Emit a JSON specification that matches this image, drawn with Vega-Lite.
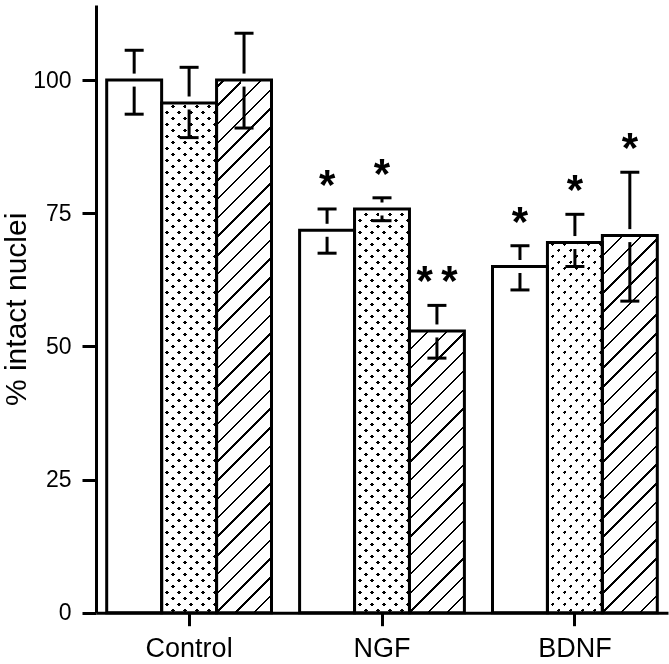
{
"$schema": "https://vega.github.io/schema/vega-lite/v6.json",
"autosize": {"type": "none"},
"padding": {"left": 96, "top": 5, "right": 1, "bottom": 51.3},
"width": 572,
"height": 607.7,
"background": "white",
"config": {"view": {"stroke": null}, "font": "Liberation Sans",
  "axis": {"grid": false, "domainColor": "#000", "tickColor": "#000", "labelColor": "#000", "titleColor": "#000", "domainWidth": 3, "tickWidth": 3, "labelFont": "Liberation Sans", "titleFont": "Liberation Sans"}},
"data": {"values": [
  {"group": "Control", "series": "A", "mean": 100, "lo": 93.6, "hi": 105.6, "sig": ""},
  {"group": "Control", "series": "B", "mean": 95.7, "lo": 89.2, "hi": 102.4, "sig": ""},
  {"group": "Control", "series": "C", "mean": 100, "lo": 91.0, "hi": 108.8, "sig": ""},
  {"group": "NGF", "series": "A", "mean": 71.8, "lo": 67.5, "hi": 75.8, "sig": "*"},
  {"group": "NGF", "series": "B", "mean": 75.8, "lo": 73.6, "hi": 77.9, "sig": "*"},
  {"group": "NGF", "series": "C", "mean": 52.9, "lo": 47.8, "hi": 57.7, "sig": "*\u2009*"},
  {"group": "BDNF", "series": "A", "mean": 65.0, "lo": 60.6, "hi": 68.9, "sig": "*"},
  {"group": "BDNF", "series": "B", "mean": 69.5, "lo": 65.0, "hi": 74.8, "sig": "*"},
  {"group": "BDNF", "series": "C", "mean": 70.8, "lo": 58.5, "hi": 82.7, "sig": "*"}
]},
"encoding": {
  "x": {"field": "group", "type": "nominal", "sort": ["Control", "NGF", "BDNF"], "scale": {"paddingInner": 0.1457, "paddingOuter": 0.0555},
        "axis": {"title": null, "labelAngle": 0, "tickSize": 13, "labelFontSize": 27, "labelPadding": 10}},
  "xOffset": {"field": "series", "type": "nominal", "sort": ["A", "B", "C"], "scale": {"paddingInner": 0, "paddingOuter": 0}}
},
"layer": [
  {"transform": [{"filter": "datum.series == 'B'"}],
   "mark": {"type": "bar", "strokeWidth": 0, "fill": {"gradient": "linear", "x1": 0, "y1": 0, "x2": 0.10981, "y2": 1.08966, "stops": [
{"offset":0,"color":"#000"},{"offset":0.0065,"color":"#000"},{"offset":0.0065,"color":"#fff"},{"offset":0.02,"color":"#fff"},
{"offset":0.02,"color":"#000"},{"offset":0.0265,"color":"#000"},{"offset":0.0265,"color":"#fff"},{"offset":0.04,"color":"#fff"},
{"offset":0.04,"color":"#000"},{"offset":0.0465,"color":"#000"},{"offset":0.0465,"color":"#fff"},{"offset":0.06,"color":"#fff"},
{"offset":0.06,"color":"#000"},{"offset":0.0665,"color":"#000"},{"offset":0.0665,"color":"#fff"},{"offset":0.08,"color":"#fff"},
{"offset":0.08,"color":"#000"},{"offset":0.0865,"color":"#000"},{"offset":0.0865,"color":"#fff"},{"offset":0.1,"color":"#fff"},
{"offset":0.1,"color":"#000"},{"offset":0.1065,"color":"#000"},{"offset":0.1065,"color":"#fff"},{"offset":0.12,"color":"#fff"},
{"offset":0.12,"color":"#000"},{"offset":0.1265,"color":"#000"},{"offset":0.1265,"color":"#fff"},{"offset":0.14,"color":"#fff"},
{"offset":0.14,"color":"#000"},{"offset":0.1465,"color":"#000"},{"offset":0.1465,"color":"#fff"},{"offset":0.16,"color":"#fff"},
{"offset":0.16,"color":"#000"},{"offset":0.1665,"color":"#000"},{"offset":0.1665,"color":"#fff"},{"offset":0.18,"color":"#fff"},
{"offset":0.18,"color":"#000"},{"offset":0.1865,"color":"#000"},{"offset":0.1865,"color":"#fff"},{"offset":0.2,"color":"#fff"},
{"offset":0.2,"color":"#000"},{"offset":0.2065,"color":"#000"},{"offset":0.2065,"color":"#fff"},{"offset":0.22,"color":"#fff"},
{"offset":0.22,"color":"#000"},{"offset":0.2265,"color":"#000"},{"offset":0.2265,"color":"#fff"},{"offset":0.24,"color":"#fff"},
{"offset":0.24,"color":"#000"},{"offset":0.2465,"color":"#000"},{"offset":0.2465,"color":"#fff"},{"offset":0.26,"color":"#fff"},
{"offset":0.26,"color":"#000"},{"offset":0.2665,"color":"#000"},{"offset":0.2665,"color":"#fff"},{"offset":0.28,"color":"#fff"},
{"offset":0.28,"color":"#000"},{"offset":0.2865,"color":"#000"},{"offset":0.2865,"color":"#fff"},{"offset":0.3,"color":"#fff"},
{"offset":0.3,"color":"#000"},{"offset":0.3065,"color":"#000"},{"offset":0.3065,"color":"#fff"},{"offset":0.32,"color":"#fff"},
{"offset":0.32,"color":"#000"},{"offset":0.3265,"color":"#000"},{"offset":0.3265,"color":"#fff"},{"offset":0.34,"color":"#fff"},
{"offset":0.34,"color":"#000"},{"offset":0.3465,"color":"#000"},{"offset":0.3465,"color":"#fff"},{"offset":0.36,"color":"#fff"},
{"offset":0.36,"color":"#000"},{"offset":0.3665,"color":"#000"},{"offset":0.3665,"color":"#fff"},{"offset":0.38,"color":"#fff"},
{"offset":0.38,"color":"#000"},{"offset":0.3865,"color":"#000"},{"offset":0.3865,"color":"#fff"},{"offset":0.4,"color":"#fff"},
{"offset":0.4,"color":"#000"},{"offset":0.4065,"color":"#000"},{"offset":0.4065,"color":"#fff"},{"offset":0.42,"color":"#fff"},
{"offset":0.42,"color":"#000"},{"offset":0.4265,"color":"#000"},{"offset":0.4265,"color":"#fff"},{"offset":0.44,"color":"#fff"},
{"offset":0.44,"color":"#000"},{"offset":0.4465,"color":"#000"},{"offset":0.4465,"color":"#fff"},{"offset":0.46,"color":"#fff"},
{"offset":0.46,"color":"#000"},{"offset":0.4665,"color":"#000"},{"offset":0.4665,"color":"#fff"},{"offset":0.48,"color":"#fff"},
{"offset":0.48,"color":"#000"},{"offset":0.4865,"color":"#000"},{"offset":0.4865,"color":"#fff"},{"offset":0.5,"color":"#fff"},
{"offset":0.5,"color":"#000"},{"offset":0.5065,"color":"#000"},{"offset":0.5065,"color":"#fff"},{"offset":0.52,"color":"#fff"},
{"offset":0.52,"color":"#000"},{"offset":0.5265,"color":"#000"},{"offset":0.5265,"color":"#fff"},{"offset":0.54,"color":"#fff"},
{"offset":0.54,"color":"#000"},{"offset":0.5465,"color":"#000"},{"offset":0.5465,"color":"#fff"},{"offset":0.56,"color":"#fff"},
{"offset":0.56,"color":"#000"},{"offset":0.5665,"color":"#000"},{"offset":0.5665,"color":"#fff"},{"offset":0.58,"color":"#fff"},
{"offset":0.58,"color":"#000"},{"offset":0.5865,"color":"#000"},{"offset":0.5865,"color":"#fff"},{"offset":0.6,"color":"#fff"},
{"offset":0.6,"color":"#000"},{"offset":0.6065,"color":"#000"},{"offset":0.6065,"color":"#fff"},{"offset":0.62,"color":"#fff"},
{"offset":0.62,"color":"#000"},{"offset":0.6265,"color":"#000"},{"offset":0.6265,"color":"#fff"},{"offset":0.64,"color":"#fff"},
{"offset":0.64,"color":"#000"},{"offset":0.6465,"color":"#000"},{"offset":0.6465,"color":"#fff"},{"offset":0.66,"color":"#fff"},
{"offset":0.66,"color":"#000"},{"offset":0.6665,"color":"#000"},{"offset":0.6665,"color":"#fff"},{"offset":0.68,"color":"#fff"},
{"offset":0.68,"color":"#000"},{"offset":0.6865,"color":"#000"},{"offset":0.6865,"color":"#fff"},{"offset":0.7,"color":"#fff"},
{"offset":0.7,"color":"#000"},{"offset":0.7065,"color":"#000"},{"offset":0.7065,"color":"#fff"},{"offset":0.72,"color":"#fff"},
{"offset":0.72,"color":"#000"},{"offset":0.7265,"color":"#000"},{"offset":0.7265,"color":"#fff"},{"offset":0.74,"color":"#fff"},
{"offset":0.74,"color":"#000"},{"offset":0.7465,"color":"#000"},{"offset":0.7465,"color":"#fff"},{"offset":0.76,"color":"#fff"},
{"offset":0.76,"color":"#000"},{"offset":0.7665,"color":"#000"},{"offset":0.7665,"color":"#fff"},{"offset":0.78,"color":"#fff"},
{"offset":0.78,"color":"#000"},{"offset":0.7865,"color":"#000"},{"offset":0.7865,"color":"#fff"},{"offset":0.8,"color":"#fff"},
{"offset":0.8,"color":"#000"},{"offset":0.8065,"color":"#000"},{"offset":0.8065,"color":"#fff"},{"offset":0.82,"color":"#fff"},
{"offset":0.82,"color":"#000"},{"offset":0.8265,"color":"#000"},{"offset":0.8265,"color":"#fff"},{"offset":0.84,"color":"#fff"},
{"offset":0.84,"color":"#000"},{"offset":0.8465,"color":"#000"},{"offset":0.8465,"color":"#fff"},{"offset":0.86,"color":"#fff"},
{"offset":0.86,"color":"#000"},{"offset":0.8665,"color":"#000"},{"offset":0.8665,"color":"#fff"},{"offset":0.88,"color":"#fff"},
{"offset":0.88,"color":"#000"},{"offset":0.8865,"color":"#000"},{"offset":0.8865,"color":"#fff"},{"offset":0.9,"color":"#fff"},
{"offset":0.9,"color":"#000"},{"offset":0.9065,"color":"#000"},{"offset":0.9065,"color":"#fff"},{"offset":0.92,"color":"#fff"},
{"offset":0.92,"color":"#000"},{"offset":0.9265,"color":"#000"},{"offset":0.9265,"color":"#fff"},{"offset":0.94,"color":"#fff"},
{"offset":0.94,"color":"#000"},{"offset":0.9465,"color":"#000"},{"offset":0.9465,"color":"#fff"},{"offset":0.96,"color":"#fff"},
{"offset":0.96,"color":"#000"},{"offset":0.9665,"color":"#000"},{"offset":0.9665,"color":"#fff"},{"offset":0.98,"color":"#fff"},
{"offset":0.98,"color":"#000"},{"offset":0.9865,"color":"#000"},{"offset":0.9865,"color":"#fff"},{"offset":1,"color":"#fff"}]}},
   "encoding": {"y": {"datum": 102.35, "type": "quantitative"}, "y2": {"datum": 0}}},
  {"transform": [{"filter": "datum.series == 'B'"}],
   "mark": {"type": "bar", "strokeWidth": 0, "blend": "lighten", "fill": {"gradient": "linear", "x1": 0, "y1": 1, "x2": 0.10981, "y2": -0.08966, "stops": [
{"offset":0,"color":"#000"},{"offset":0.0065,"color":"#000"},{"offset":0.0065,"color":"#fff"},{"offset":0.02,"color":"#fff"},
{"offset":0.02,"color":"#000"},{"offset":0.0265,"color":"#000"},{"offset":0.0265,"color":"#fff"},{"offset":0.04,"color":"#fff"},
{"offset":0.04,"color":"#000"},{"offset":0.0465,"color":"#000"},{"offset":0.0465,"color":"#fff"},{"offset":0.06,"color":"#fff"},
{"offset":0.06,"color":"#000"},{"offset":0.0665,"color":"#000"},{"offset":0.0665,"color":"#fff"},{"offset":0.08,"color":"#fff"},
{"offset":0.08,"color":"#000"},{"offset":0.0865,"color":"#000"},{"offset":0.0865,"color":"#fff"},{"offset":0.1,"color":"#fff"},
{"offset":0.1,"color":"#000"},{"offset":0.1065,"color":"#000"},{"offset":0.1065,"color":"#fff"},{"offset":0.12,"color":"#fff"},
{"offset":0.12,"color":"#000"},{"offset":0.1265,"color":"#000"},{"offset":0.1265,"color":"#fff"},{"offset":0.14,"color":"#fff"},
{"offset":0.14,"color":"#000"},{"offset":0.1465,"color":"#000"},{"offset":0.1465,"color":"#fff"},{"offset":0.16,"color":"#fff"},
{"offset":0.16,"color":"#000"},{"offset":0.1665,"color":"#000"},{"offset":0.1665,"color":"#fff"},{"offset":0.18,"color":"#fff"},
{"offset":0.18,"color":"#000"},{"offset":0.1865,"color":"#000"},{"offset":0.1865,"color":"#fff"},{"offset":0.2,"color":"#fff"},
{"offset":0.2,"color":"#000"},{"offset":0.2065,"color":"#000"},{"offset":0.2065,"color":"#fff"},{"offset":0.22,"color":"#fff"},
{"offset":0.22,"color":"#000"},{"offset":0.2265,"color":"#000"},{"offset":0.2265,"color":"#fff"},{"offset":0.24,"color":"#fff"},
{"offset":0.24,"color":"#000"},{"offset":0.2465,"color":"#000"},{"offset":0.2465,"color":"#fff"},{"offset":0.26,"color":"#fff"},
{"offset":0.26,"color":"#000"},{"offset":0.2665,"color":"#000"},{"offset":0.2665,"color":"#fff"},{"offset":0.28,"color":"#fff"},
{"offset":0.28,"color":"#000"},{"offset":0.2865,"color":"#000"},{"offset":0.2865,"color":"#fff"},{"offset":0.3,"color":"#fff"},
{"offset":0.3,"color":"#000"},{"offset":0.3065,"color":"#000"},{"offset":0.3065,"color":"#fff"},{"offset":0.32,"color":"#fff"},
{"offset":0.32,"color":"#000"},{"offset":0.3265,"color":"#000"},{"offset":0.3265,"color":"#fff"},{"offset":0.34,"color":"#fff"},
{"offset":0.34,"color":"#000"},{"offset":0.3465,"color":"#000"},{"offset":0.3465,"color":"#fff"},{"offset":0.36,"color":"#fff"},
{"offset":0.36,"color":"#000"},{"offset":0.3665,"color":"#000"},{"offset":0.3665,"color":"#fff"},{"offset":0.38,"color":"#fff"},
{"offset":0.38,"color":"#000"},{"offset":0.3865,"color":"#000"},{"offset":0.3865,"color":"#fff"},{"offset":0.4,"color":"#fff"},
{"offset":0.4,"color":"#000"},{"offset":0.4065,"color":"#000"},{"offset":0.4065,"color":"#fff"},{"offset":0.42,"color":"#fff"},
{"offset":0.42,"color":"#000"},{"offset":0.4265,"color":"#000"},{"offset":0.4265,"color":"#fff"},{"offset":0.44,"color":"#fff"},
{"offset":0.44,"color":"#000"},{"offset":0.4465,"color":"#000"},{"offset":0.4465,"color":"#fff"},{"offset":0.46,"color":"#fff"},
{"offset":0.46,"color":"#000"},{"offset":0.4665,"color":"#000"},{"offset":0.4665,"color":"#fff"},{"offset":0.48,"color":"#fff"},
{"offset":0.48,"color":"#000"},{"offset":0.4865,"color":"#000"},{"offset":0.4865,"color":"#fff"},{"offset":0.5,"color":"#fff"},
{"offset":0.5,"color":"#000"},{"offset":0.5065,"color":"#000"},{"offset":0.5065,"color":"#fff"},{"offset":0.52,"color":"#fff"},
{"offset":0.52,"color":"#000"},{"offset":0.5265,"color":"#000"},{"offset":0.5265,"color":"#fff"},{"offset":0.54,"color":"#fff"},
{"offset":0.54,"color":"#000"},{"offset":0.5465,"color":"#000"},{"offset":0.5465,"color":"#fff"},{"offset":0.56,"color":"#fff"},
{"offset":0.56,"color":"#000"},{"offset":0.5665,"color":"#000"},{"offset":0.5665,"color":"#fff"},{"offset":0.58,"color":"#fff"},
{"offset":0.58,"color":"#000"},{"offset":0.5865,"color":"#000"},{"offset":0.5865,"color":"#fff"},{"offset":0.6,"color":"#fff"},
{"offset":0.6,"color":"#000"},{"offset":0.6065,"color":"#000"},{"offset":0.6065,"color":"#fff"},{"offset":0.62,"color":"#fff"},
{"offset":0.62,"color":"#000"},{"offset":0.6265,"color":"#000"},{"offset":0.6265,"color":"#fff"},{"offset":0.64,"color":"#fff"},
{"offset":0.64,"color":"#000"},{"offset":0.6465,"color":"#000"},{"offset":0.6465,"color":"#fff"},{"offset":0.66,"color":"#fff"},
{"offset":0.66,"color":"#000"},{"offset":0.6665,"color":"#000"},{"offset":0.6665,"color":"#fff"},{"offset":0.68,"color":"#fff"},
{"offset":0.68,"color":"#000"},{"offset":0.6865,"color":"#000"},{"offset":0.6865,"color":"#fff"},{"offset":0.7,"color":"#fff"},
{"offset":0.7,"color":"#000"},{"offset":0.7065,"color":"#000"},{"offset":0.7065,"color":"#fff"},{"offset":0.72,"color":"#fff"},
{"offset":0.72,"color":"#000"},{"offset":0.7265,"color":"#000"},{"offset":0.7265,"color":"#fff"},{"offset":0.74,"color":"#fff"},
{"offset":0.74,"color":"#000"},{"offset":0.7465,"color":"#000"},{"offset":0.7465,"color":"#fff"},{"offset":0.76,"color":"#fff"},
{"offset":0.76,"color":"#000"},{"offset":0.7665,"color":"#000"},{"offset":0.7665,"color":"#fff"},{"offset":0.78,"color":"#fff"},
{"offset":0.78,"color":"#000"},{"offset":0.7865,"color":"#000"},{"offset":0.7865,"color":"#fff"},{"offset":0.8,"color":"#fff"},
{"offset":0.8,"color":"#000"},{"offset":0.8065,"color":"#000"},{"offset":0.8065,"color":"#fff"},{"offset":0.82,"color":"#fff"},
{"offset":0.82,"color":"#000"},{"offset":0.8265,"color":"#000"},{"offset":0.8265,"color":"#fff"},{"offset":0.84,"color":"#fff"},
{"offset":0.84,"color":"#000"},{"offset":0.8465,"color":"#000"},{"offset":0.8465,"color":"#fff"},{"offset":0.86,"color":"#fff"},
{"offset":0.86,"color":"#000"},{"offset":0.8665,"color":"#000"},{"offset":0.8665,"color":"#fff"},{"offset":0.88,"color":"#fff"},
{"offset":0.88,"color":"#000"},{"offset":0.8865,"color":"#000"},{"offset":0.8865,"color":"#fff"},{"offset":0.9,"color":"#fff"},
{"offset":0.9,"color":"#000"},{"offset":0.9065,"color":"#000"},{"offset":0.9065,"color":"#fff"},{"offset":0.92,"color":"#fff"},
{"offset":0.92,"color":"#000"},{"offset":0.9265,"color":"#000"},{"offset":0.9265,"color":"#fff"},{"offset":0.94,"color":"#fff"},
{"offset":0.94,"color":"#000"},{"offset":0.9465,"color":"#000"},{"offset":0.9465,"color":"#fff"},{"offset":0.96,"color":"#fff"},
{"offset":0.96,"color":"#000"},{"offset":0.9665,"color":"#000"},{"offset":0.9665,"color":"#fff"},{"offset":0.98,"color":"#fff"},
{"offset":0.98,"color":"#000"},{"offset":0.9865,"color":"#000"},{"offset":0.9865,"color":"#fff"},{"offset":1,"color":"#fff"}]}},
   "encoding": {"y": {"datum": 102.35, "type": "quantitative"}, "y2": {"datum": 0}}},
  {"transform": [{"filter": "datum.series == 'C'"}],
   "mark": {"type": "bar", "strokeWidth": 0, "fill": {"gradient": "linear", "x1": 0, "y1": 0, "x2": 0.10981, "y2": 1.08966, "stops": [
{"offset":0,"color":"#000"},{"offset":0.004,"color":"#000"},{"offset":0.004,"color":"#fff"},{"offset":0.03125,"color":"#fff"},
{"offset":0.03125,"color":"#000"},{"offset":0.03525,"color":"#000"},{"offset":0.03525,"color":"#fff"},{"offset":0.0625,"color":"#fff"},
{"offset":0.0625,"color":"#000"},{"offset":0.0665,"color":"#000"},{"offset":0.0665,"color":"#fff"},{"offset":0.09375,"color":"#fff"},
{"offset":0.09375,"color":"#000"},{"offset":0.09775,"color":"#000"},{"offset":0.09775,"color":"#fff"},{"offset":0.125,"color":"#fff"},
{"offset":0.125,"color":"#000"},{"offset":0.129,"color":"#000"},{"offset":0.129,"color":"#fff"},{"offset":0.15625,"color":"#fff"},
{"offset":0.15625,"color":"#000"},{"offset":0.16025,"color":"#000"},{"offset":0.16025,"color":"#fff"},{"offset":0.1875,"color":"#fff"},
{"offset":0.1875,"color":"#000"},{"offset":0.1915,"color":"#000"},{"offset":0.1915,"color":"#fff"},{"offset":0.21875,"color":"#fff"},
{"offset":0.21875,"color":"#000"},{"offset":0.22275,"color":"#000"},{"offset":0.22275,"color":"#fff"},{"offset":0.25,"color":"#fff"},
{"offset":0.25,"color":"#000"},{"offset":0.254,"color":"#000"},{"offset":0.254,"color":"#fff"},{"offset":0.28125,"color":"#fff"},
{"offset":0.28125,"color":"#000"},{"offset":0.28525,"color":"#000"},{"offset":0.28525,"color":"#fff"},{"offset":0.3125,"color":"#fff"},
{"offset":0.3125,"color":"#000"},{"offset":0.3165,"color":"#000"},{"offset":0.3165,"color":"#fff"},{"offset":0.34375,"color":"#fff"},
{"offset":0.34375,"color":"#000"},{"offset":0.34775,"color":"#000"},{"offset":0.34775,"color":"#fff"},{"offset":0.375,"color":"#fff"},
{"offset":0.375,"color":"#000"},{"offset":0.379,"color":"#000"},{"offset":0.379,"color":"#fff"},{"offset":0.40625,"color":"#fff"},
{"offset":0.40625,"color":"#000"},{"offset":0.41025,"color":"#000"},{"offset":0.41025,"color":"#fff"},{"offset":0.4375,"color":"#fff"},
{"offset":0.4375,"color":"#000"},{"offset":0.4415,"color":"#000"},{"offset":0.4415,"color":"#fff"},{"offset":0.46875,"color":"#fff"},
{"offset":0.46875,"color":"#000"},{"offset":0.47275,"color":"#000"},{"offset":0.47275,"color":"#fff"},{"offset":0.5,"color":"#fff"},
{"offset":0.5,"color":"#000"},{"offset":0.504,"color":"#000"},{"offset":0.504,"color":"#fff"},{"offset":0.53125,"color":"#fff"},
{"offset":0.53125,"color":"#000"},{"offset":0.53525,"color":"#000"},{"offset":0.53525,"color":"#fff"},{"offset":0.5625,"color":"#fff"},
{"offset":0.5625,"color":"#000"},{"offset":0.5665,"color":"#000"},{"offset":0.5665,"color":"#fff"},{"offset":0.59375,"color":"#fff"},
{"offset":0.59375,"color":"#000"},{"offset":0.59775,"color":"#000"},{"offset":0.59775,"color":"#fff"},{"offset":0.625,"color":"#fff"},
{"offset":0.625,"color":"#000"},{"offset":0.629,"color":"#000"},{"offset":0.629,"color":"#fff"},{"offset":0.65625,"color":"#fff"},
{"offset":0.65625,"color":"#000"},{"offset":0.66025,"color":"#000"},{"offset":0.66025,"color":"#fff"},{"offset":0.6875,"color":"#fff"},
{"offset":0.6875,"color":"#000"},{"offset":0.6915,"color":"#000"},{"offset":0.6915,"color":"#fff"},{"offset":0.71875,"color":"#fff"},
{"offset":0.71875,"color":"#000"},{"offset":0.72275,"color":"#000"},{"offset":0.72275,"color":"#fff"},{"offset":0.75,"color":"#fff"},
{"offset":0.75,"color":"#000"},{"offset":0.754,"color":"#000"},{"offset":0.754,"color":"#fff"},{"offset":0.78125,"color":"#fff"},
{"offset":0.78125,"color":"#000"},{"offset":0.78525,"color":"#000"},{"offset":0.78525,"color":"#fff"},{"offset":0.8125,"color":"#fff"},
{"offset":0.8125,"color":"#000"},{"offset":0.8165,"color":"#000"},{"offset":0.8165,"color":"#fff"},{"offset":0.84375,"color":"#fff"},
{"offset":0.84375,"color":"#000"},{"offset":0.84775,"color":"#000"},{"offset":0.84775,"color":"#fff"},{"offset":0.875,"color":"#fff"},
{"offset":0.875,"color":"#000"},{"offset":0.879,"color":"#000"},{"offset":0.879,"color":"#fff"},{"offset":0.90625,"color":"#fff"},
{"offset":0.90625,"color":"#000"},{"offset":0.91025,"color":"#000"},{"offset":0.91025,"color":"#fff"},{"offset":0.9375,"color":"#fff"},
{"offset":0.9375,"color":"#000"},{"offset":0.9415,"color":"#000"},{"offset":0.9415,"color":"#fff"},{"offset":0.96875,"color":"#fff"},
{"offset":0.96875,"color":"#000"},{"offset":0.97275,"color":"#000"},{"offset":0.97275,"color":"#fff"},{"offset":1,"color":"#fff"}]}},
   "encoding": {"y": {"datum": 102.35, "type": "quantitative"}, "y2": {"datum": 0}}},
  {"mark": {"type": "bar", "fill": "#fff", "stroke": "#fff", "strokeWidth": 2},
   "encoding": {"y": {"field": "mean", "type": "quantitative"}, "y2": {"datum": 102.35}}},
  {"mark": {"type": "rule", "color": "#000", "strokeWidth": 3},
   "encoding": {"y": {"field": "lo", "type": "quantitative"}, "y2": {"field": "hi"}}},
  {"mark": {"type": "tick", "orient": "vertical", "color": "#fff", "opacity": 1, "size": 13, "thickness": 6},
   "encoding": {"y": {"field": "mean", "type": "quantitative"}}},
  {"mark": {"type": "tick", "orient": "horizontal", "color": "#000", "opacity": 1, "size": 19, "thickness": 3},
   "encoding": {"y": {"field": "hi", "type": "quantitative"}}},
  {"mark": {"type": "tick", "orient": "horizontal", "color": "#000", "opacity": 1, "size": 19, "thickness": 3},
   "encoding": {"y": {"field": "lo", "type": "quantitative"}}},
  {"mark": {"type": "bar", "fill": "transparent", "stroke": "#000", "strokeWidth": 3},
   "encoding": {"y": {"field": "mean", "type": "quantitative", "scale": {"domain": [0, 114.1], "nice": false, "zero": true},
     "axis": {"title": "% intact nuclei", "values": [0, 25, 50, 75, 100], "tickSize": 14, "labelFontSize": 23, "labelPadding": 11,
              "titleFontSize": 30, "titleFontWeight": "normal", "titlePadding": 1}}}},
  {"transform": [{"filter": "datum.sig != ''"}],
   "mark": {"type": "text", "font": "Liberation Sans", "fontSize": 42, "fontWeight": "bold", "color": "#000", "baseline": "alphabetic", "align": "center", "dy": -10},
   "encoding": {"y": {"field": "hi", "type": "quantitative"}, "text": {"field": "sig"}}}
]
}
